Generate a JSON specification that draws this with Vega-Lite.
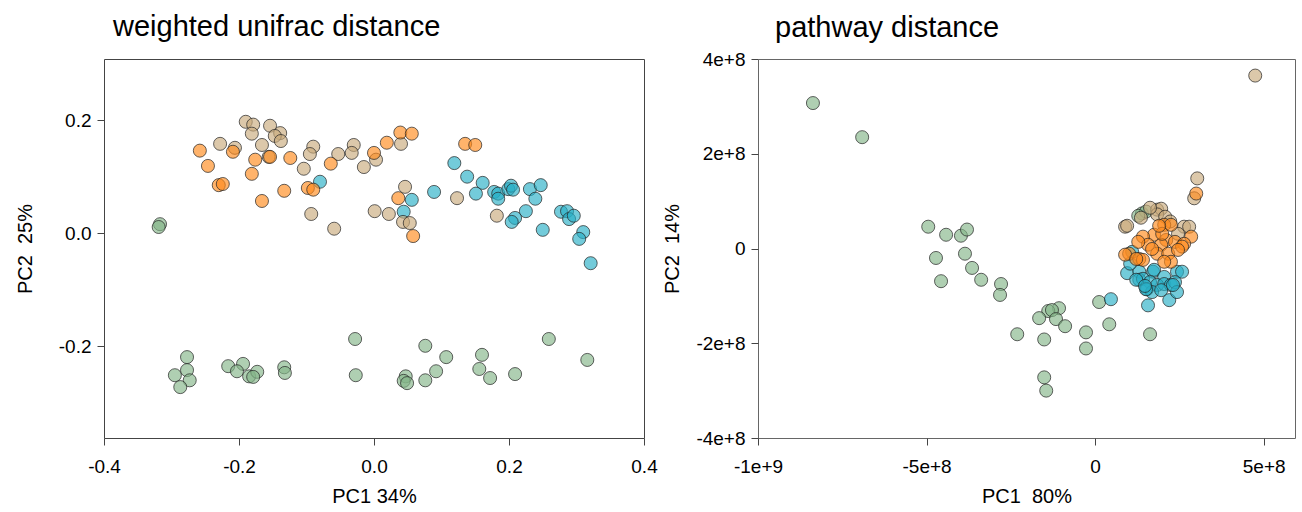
{
  "$schema": "https://vega.github.io/schema/vega-lite/v6.json",
  "background": "white",
  "padding": {"left": 14, "top": 12, "right": 0, "bottom": 0},
  "config": {
    "font": "Liberation Sans",
    "concat": {"spacing": 3},
    "axis": {"labelFont": "Liberation Sans", "titleFont": "Liberation Sans", "labelFontSize": 19, "titleFontSize": 20, "titleFontWeight": "normal", "labelColor": "black", "titleColor": "black", "tickColor": "#444", "domain": false, "grid": false, "tickSize": 7, "labelFlush": false, "labelOverlap": false},
    "title": {"font": "Liberation Sans", "fontSize": 29, "fontWeight": "normal", "anchor": "start", "frame": "group", "offset": 17, "color": "black"},
    "legend": {"disable": true}
  },
  "datasets": {
    "unifrac": [
      {"g": "green", "x": -0.317, "y": 0.016}, {"g": "green", "x": -0.319, "y": 0.011}, {"g": "green", "x": -0.277, "y": -0.219}, {"g": "green", "x": -0.295, "y": -0.251}, {"g": "green", "x": -0.277, "y": -0.242}, {"g": "green", "x": -0.273, "y": -0.26}, {"g": "green", "x": -0.287, "y": -0.272}, {"g": "green", "x": -0.216, "y": -0.235}, {"g": "green", "x": -0.194, "y": -0.231}, {"g": "green", "x": -0.203, "y": -0.244}, {"g": "green", "x": -0.185, "y": -0.253}, {"g": "green", "x": -0.173, "y": -0.245}, {"g": "green", "x": -0.179, "y": -0.254}, {"g": "green", "x": -0.133, "y": -0.237}, {"g": "green", "x": -0.132, "y": -0.247}, {"g": "green", "x": -0.028, "y": -0.187}, {"g": "green", "x": -0.027, "y": -0.251}, {"g": "green", "x": 0.047, "y": -0.253}, {"g": "green", "x": 0.044, "y": -0.261}, {"g": "green", "x": 0.049, "y": -0.265}, {"g": "green", "x": 0.076, "y": -0.199}, {"g": "green", "x": 0.107, "y": -0.219}, {"g": "green", "x": 0.092, "y": -0.244}, {"g": "green", "x": 0.076, "y": -0.26}, {"g": "green", "x": 0.16, "y": -0.215}, {"g": "green", "x": 0.156, "y": -0.24}, {"g": "green", "x": 0.172, "y": -0.256}, {"g": "green", "x": 0.209, "y": -0.249}, {"g": "green", "x": 0.259, "y": -0.187}, {"g": "green", "x": 0.316, "y": -0.224},
      {"g": "teal", "x": -0.08, "y": 0.091}, {"g": "teal", "x": 0.119, "y": 0.124}, {"g": "teal", "x": 0.138, "y": 0.1}, {"g": "teal", "x": 0.161, "y": 0.089}, {"g": "teal", "x": 0.089, "y": 0.073}, {"g": "teal", "x": 0.056, "y": 0.059}, {"g": "teal", "x": 0.044, "y": 0.038}, {"g": "teal", "x": 0.151, "y": 0.07}, {"g": "teal", "x": 0.178, "y": 0.073}, {"g": "teal", "x": 0.184, "y": 0.07}, {"g": "teal", "x": 0.184, "y": 0.061}, {"g": "teal", "x": 0.199, "y": 0.078}, {"g": "teal", "x": 0.203, "y": 0.084}, {"g": "teal", "x": 0.206, "y": 0.077}, {"g": "teal", "x": 0.231, "y": 0.078}, {"g": "teal", "x": 0.247, "y": 0.085}, {"g": "teal", "x": 0.239, "y": 0.061}, {"g": "teal", "x": 0.225, "y": 0.039}, {"g": "teal", "x": 0.209, "y": 0.027}, {"g": "teal", "x": 0.204, "y": 0.02}, {"g": "teal", "x": 0.25, "y": 0.006}, {"g": "teal", "x": 0.277, "y": 0.038}, {"g": "teal", "x": 0.286, "y": 0.039}, {"g": "teal", "x": 0.289, "y": 0.025}, {"g": "teal", "x": 0.296, "y": 0.031}, {"g": "teal", "x": 0.31, "y": 0.002}, {"g": "teal", "x": 0.304, "y": -0.01}, {"g": "teal", "x": 0.321, "y": -0.053},
      {"g": "tan", "x": -0.19, "y": 0.197}, {"g": "tan", "x": -0.179, "y": 0.192}, {"g": "tan", "x": -0.181, "y": 0.176}, {"g": "tan", "x": -0.154, "y": 0.19}, {"g": "tan", "x": -0.139, "y": 0.177}, {"g": "tan", "x": -0.147, "y": 0.172}, {"g": "tan", "x": -0.138, "y": 0.163}, {"g": "tan", "x": -0.228, "y": 0.158}, {"g": "tan", "x": -0.206, "y": 0.151}, {"g": "tan", "x": -0.166, "y": 0.156}, {"g": "tan", "x": -0.156, "y": 0.135}, {"g": "tan", "x": -0.09, "y": 0.153}, {"g": "tan", "x": -0.095, "y": 0.14}, {"g": "tan", "x": -0.053, "y": 0.14}, {"g": "tan", "x": -0.03, "y": 0.156}, {"g": "tan", "x": -0.033, "y": 0.142}, {"g": "tan", "x": -0.104, "y": 0.114}, {"g": "tan", "x": -0.015, "y": 0.117}, {"g": "tan", "x": 0.003, "y": 0.13}, {"g": "tan", "x": -0.093, "y": 0.034}, {"g": "tan", "x": -0.059, "y": 0.008}, {"g": "tan", "x": 0.001, "y": 0.039}, {"g": "tan", "x": 0.04, "y": 0.158}, {"g": "tan", "x": 0.046, "y": 0.082}, {"g": "tan", "x": 0.123, "y": 0.062}, {"g": "tan", "x": 0.022, "y": 0.034}, {"g": "tan", "x": 0.043, "y": 0.02}, {"g": "tan", "x": 0.053, "y": 0.018}, {"g": "tan", "x": 0.182, "y": 0.031},
      {"g": "orange", "x": -0.258, "y": 0.146}, {"g": "orange", "x": -0.246, "y": 0.119}, {"g": "orange", "x": -0.209, "y": 0.144}, {"g": "orange", "x": -0.176, "y": 0.13}, {"g": "orange", "x": -0.154, "y": 0.135}, {"g": "orange", "x": -0.124, "y": 0.133}, {"g": "orange", "x": -0.181, "y": 0.105}, {"g": "orange", "x": -0.064, "y": 0.123}, {"g": "orange", "x": 0.0, "y": 0.142}, {"g": "orange", "x": -0.23, "y": 0.085}, {"g": "orange", "x": -0.224, "y": 0.087}, {"g": "orange", "x": -0.166, "y": 0.057}, {"g": "orange", "x": -0.133, "y": 0.075}, {"g": "orange", "x": -0.098, "y": 0.08}, {"g": "orange", "x": -0.09, "y": 0.077}, {"g": "orange", "x": 0.019, "y": 0.16}, {"g": "orange", "x": 0.039, "y": 0.178}, {"g": "orange", "x": 0.056, "y": 0.176}, {"g": "orange", "x": 0.135, "y": 0.158}, {"g": "orange", "x": 0.15, "y": 0.156}, {"g": "orange", "x": 0.036, "y": 0.062}, {"g": "orange", "x": 0.058, "y": -0.005}
    ],
    "pathway": [
      {"g": "green", "x": -837000000, "y": 307000000}, {"g": "green", "x": -691000000, "y": 235000000}, {"g": "green", "x": -495000000, "y": 46000000}, {"g": "green", "x": -442000000, "y": 29000000}, {"g": "green", "x": -398000000, "y": 27000000}, {"g": "green", "x": -380000000, "y": 40000000}, {"g": "green", "x": -472000000, "y": -20000000}, {"g": "green", "x": -386000000, "y": -11000000}, {"g": "green", "x": -457000000, "y": -69000000}, {"g": "green", "x": -365000000, "y": -41000000}, {"g": "green", "x": -338000000, "y": -66000000}, {"g": "green", "x": -279000000, "y": -75000000}, {"g": "green", "x": -282000000, "y": -98000000}, {"g": "green", "x": -107000000, "y": -126000000}, {"g": "green", "x": -139000000, "y": -132000000}, {"g": "green", "x": -128000000, "y": -130000000}, {"g": "green", "x": -166000000, "y": -147000000}, {"g": "green", "x": -116000000, "y": -149000000}, {"g": "green", "x": -89000000, "y": -164000000}, {"g": "green", "x": -231000000, "y": -181000000}, {"g": "green", "x": -151000000, "y": -192000000}, {"g": "green", "x": -27000000, "y": -177000000}, {"g": "green", "x": -27000000, "y": -211000000}, {"g": "green", "x": 12000000, "y": -113000000}, {"g": "green", "x": 42000000, "y": -160000000}, {"g": "green", "x": -151000000, "y": -272000000}, {"g": "green", "x": -145000000, "y": -300000000}, {"g": "green", "x": 163000000, "y": -181000000}, {"g": "green", "x": 139000000, "y": 74000000}, {"g": "green", "x": 151000000, "y": 78000000}, {"g": "green", "x": 128000000, "y": 69000000},
      {"g": "teal", "x": 47000000, "y": -107000000}, {"g": "teal", "x": 157000000, "y": -120000000}, {"g": "teal", "x": 220000000, "y": -109000000}, {"g": "teal", "x": 243000000, "y": -49000000}, {"g": "teal", "x": 110000000, "y": -7000000}, {"g": "teal", "x": 95000000, "y": -52000000}, {"g": "teal", "x": 131000000, "y": -49000000}, {"g": "teal", "x": 131000000, "y": -66000000}, {"g": "teal", "x": 172000000, "y": -49000000}, {"g": "teal", "x": 175000000, "y": -45000000}, {"g": "teal", "x": 205000000, "y": -60000000}, {"g": "teal", "x": 258000000, "y": -49000000}, {"g": "teal", "x": 142000000, "y": -64000000}, {"g": "teal", "x": 163000000, "y": -71000000}, {"g": "teal", "x": 154000000, "y": -86000000}, {"g": "teal", "x": 184000000, "y": -77000000}, {"g": "teal", "x": 205000000, "y": -75000000}, {"g": "teal", "x": 225000000, "y": -77000000}, {"g": "teal", "x": 237000000, "y": -71000000}, {"g": "teal", "x": 169000000, "y": -92000000}, {"g": "teal", "x": 196000000, "y": -88000000}, {"g": "teal", "x": 122000000, "y": -66000000}, {"g": "teal", "x": 243000000, "y": -92000000}, {"g": "teal", "x": 151000000, "y": -86000000}, {"g": "teal", "x": 231000000, "y": -77000000}, {"g": "teal", "x": 104000000, "y": -32000000}, {"g": "teal", "x": 148000000, "y": -79000000},
      {"g": "tan", "x": 475000000, "y": 365000000}, {"g": "tan", "x": 303000000, "y": 148000000}, {"g": "tan", "x": 294000000, "y": 106000000}, {"g": "tan", "x": 89000000, "y": 46000000}, {"g": "tan", "x": 264000000, "y": 46000000}, {"g": "tan", "x": 184000000, "y": 82000000}, {"g": "tan", "x": 136000000, "y": 65000000}, {"g": "tan", "x": 196000000, "y": 84000000}, {"g": "tan", "x": 184000000, "y": 72000000}, {"g": "tan", "x": 279000000, "y": 46000000}, {"g": "tan", "x": 246000000, "y": 31000000}, {"g": "tan", "x": 95000000, "y": 48000000}, {"g": "tan", "x": 163000000, "y": 86000000}, {"g": "tan", "x": 208000000, "y": 67000000}, {"g": "tan", "x": 223000000, "y": 57000000},
      {"g": "orange", "x": 300000000, "y": 116000000}, {"g": "orange", "x": 205000000, "y": 50000000}, {"g": "orange", "x": 225000000, "y": 50000000}, {"g": "orange", "x": 175000000, "y": 29000000}, {"g": "orange", "x": 142000000, "y": 25000000}, {"g": "orange", "x": 211000000, "y": 18000000}, {"g": "orange", "x": 237000000, "y": 14000000}, {"g": "orange", "x": 285000000, "y": 25000000}, {"g": "orange", "x": 264000000, "y": 10000000}, {"g": "orange", "x": 258000000, "y": 4000000}, {"g": "orange", "x": 196000000, "y": 8000000}, {"g": "orange", "x": 157000000, "y": 8000000}, {"g": "orange", "x": 128000000, "y": 14000000}, {"g": "orange", "x": 101000000, "y": -11000000}, {"g": "orange", "x": 131000000, "y": -22000000}, {"g": "orange", "x": 142000000, "y": -24000000}, {"g": "orange", "x": 184000000, "y": -11000000}, {"g": "orange", "x": 217000000, "y": -11000000}, {"g": "orange", "x": 225000000, "y": -28000000}, {"g": "orange", "x": 169000000, "y": -1000000}, {"g": "orange", "x": 246000000, "y": -3000000}, {"g": "orange", "x": 199000000, "y": 31000000}, {"g": "orange", "x": 190000000, "y": 48000000}, {"g": "orange", "x": 89000000, "y": -13000000}, {"g": "orange", "x": 122000000, "y": -22000000}, {"g": "orange", "x": 205000000, "y": -28000000}
    ]
  },
  "hconcat": [
    {
      "data": {"name": "unifrac"},
      "width": 540,
      "height": 379,
      "view": {"stroke": "#444", "strokeWidth": 1},
      "title": {"text": "weighted unifrac distance", "dx": 9, "offset": 17},
      "mark": {"type": "point", "filled": true, "size": 170, "fillOpacity": 0.65, "stroke": "#222", "strokeWidth": 1, "strokeOpacity": 0.7},
      "encoding": {
        "x": {"field": "x", "type": "quantitative", "scale": {"domain": [-0.4, 0.4], "nice": false, "zero": false},
          "axis": {"title": "PC1 34%", "values": [-0.4, -0.2, 0, 0.2, 0.4], "labelExpr": "(datum.value < 0 ? '-' : '') + format(abs(datum.value), '.1f')", "labelPadding": 12, "titlePadding": 10}},
        "y": {"field": "y", "type": "quantitative", "scale": {"domain": [-0.362, 0.308], "nice": false, "zero": false},
          "axis": {"title": "PC2 \u00a025%", "values": [-0.2, 0, 0.2], "labelExpr": "(datum.value < 0 ? '-' : '') + format(abs(datum.value), '.1f')", "labelPadding": 6, "minExtent": 60, "maxExtent": 60, "titlePadding": 9}},
        "color": {"field": "g", "type": "nominal", "scale": {"domain": ["green", "teal", "tan", "orange"], "range": ["#84B588", "#28AFC6", "#C9AA7C", "#FF8A1C"]}, "legend": null}
      }
    },
    {
      "data": {"name": "pathway"},
      "width": 537,
      "height": 379,
      "view": {"stroke": "#666", "strokeWidth": 1},
      "title": {"text": "pathway distance", "dx": 17, "offset": 7},
      "mark": {"type": "point", "filled": true, "size": 170, "fillOpacity": 0.65, "stroke": "#222", "strokeWidth": 1, "strokeOpacity": 0.7},
      "encoding": {
        "x": {"field": "x", "type": "quantitative", "scale": {"domain": [-1000000000, 593000000], "nice": false, "zero": false},
          "axis": {"title": "PC1 \u00a080%", "values": [-1000000000, -500000000, 0, 500000000], "labelExpr": "datum.value == 0 ? '0' : (datum.value < 0 ? '-' : '') + format(abs(datum.value), '.0e')", "labelPadding": 12, "titlePadding": 10}},
        "y": {"field": "y", "type": "quantitative", "scale": {"domain": [-400000000, 400000000], "nice": false, "zero": false},
          "axis": {"title": "PC2 \u00a014%", "values": [-400000000, -200000000, 0, 200000000, 400000000], "labelExpr": "datum.value == 0 ? '0' : (datum.value < 0 ? '-' : '') + format(abs(datum.value), '.0e')", "labelPadding": 6, "minExtent": 67, "maxExtent": 67, "titlePadding": 9}},
        "color": {"field": "g", "type": "nominal", "scale": {"domain": ["green", "teal", "tan", "orange"], "range": ["#84B588", "#28AFC6", "#C9AA7C", "#FF8A1C"]}, "legend": null}
      }
    }
  ]
}
